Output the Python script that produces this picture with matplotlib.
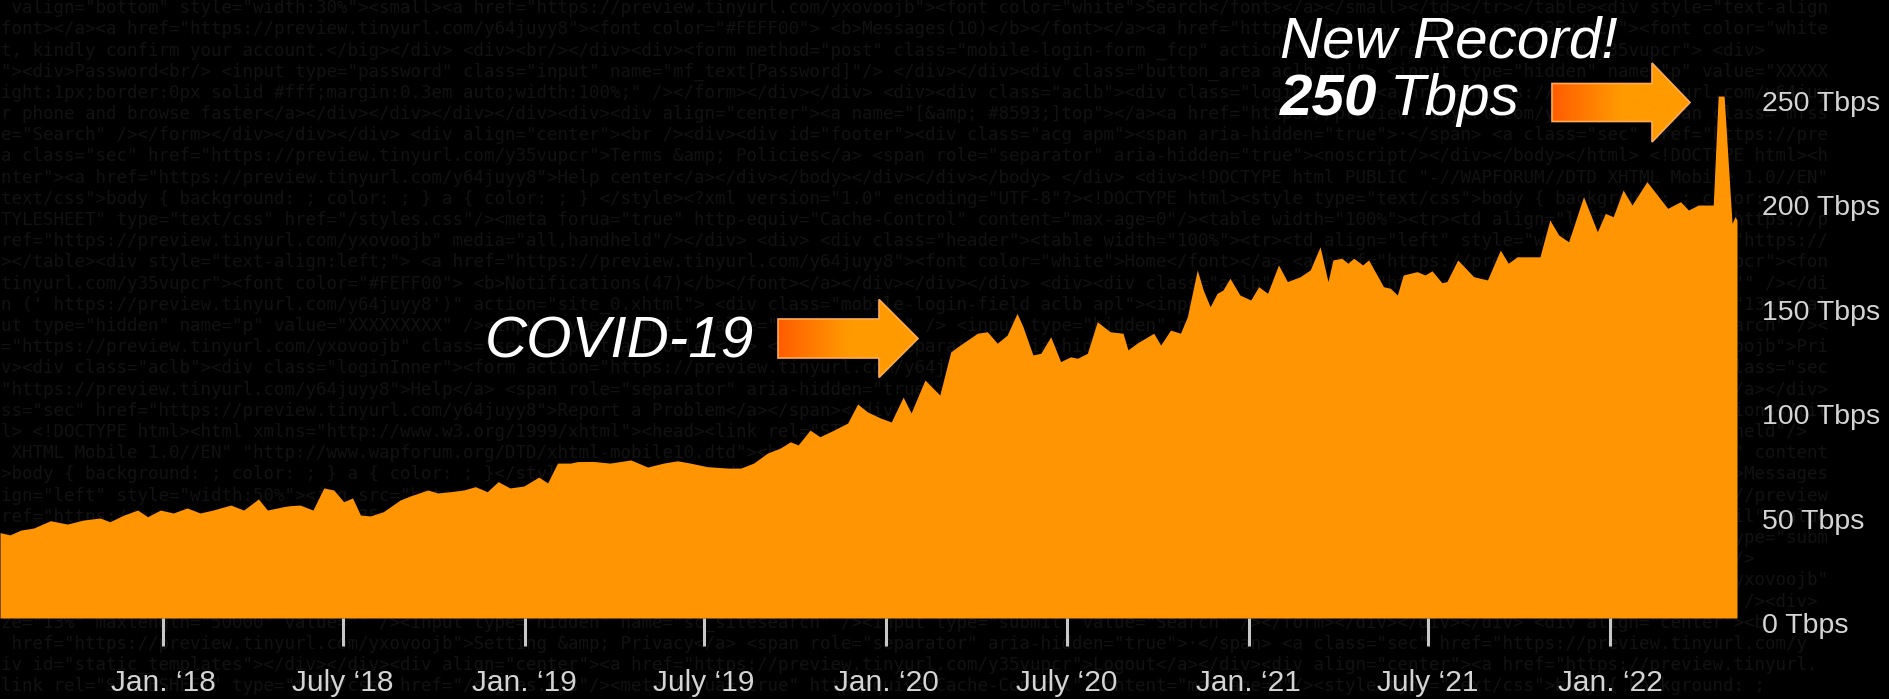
import matplotlib
matplotlib.use('Agg')
import matplotlib.pyplot as plt
import matplotlib.patches as patches
from matplotlib.colors import LinearSegmentedColormap
from matplotlib.transforms import ScaledTranslation
import numpy as np
import pandas as pd

# --- Canvas ---
W, H = 1890, 699
BG = '#000000'
ORANGE = '#ff9502'
LABEL = '#d4d4d4'

# --- Peak traffic, Tbps ---
dates = [
    '2017-07-20', '2017-07-30', '2017-08-10', '2017-08-23', '2017-09-09', '2017-09-26',
    '2017-10-12', '2017-10-29', '2017-11-08', '2017-11-22', '2017-12-06', '2017-12-16',
    '2017-12-29', '2018-01-11', '2018-01-25', '2018-02-07', '2018-02-20', '2018-03-10',
    '2018-03-23', '2018-04-07', '2018-04-16', '2018-05-02', '2018-05-09', '2018-05-19',
    '2018-06-01', '2018-06-12', '2018-06-22', '2018-07-02', '2018-07-11', '2018-07-19',
    '2018-07-29', '2018-08-11', '2018-08-28', '2018-09-07', '2018-09-25', '2018-10-05',
    '2018-10-18', '2018-10-31', '2018-11-12', '2018-11-24', '2018-12-05', '2018-12-17',
    '2018-12-31', '2019-01-15', '2019-01-24', '2019-02-03', '2019-02-16', '2019-02-23',
    '2019-03-11', '2019-03-28', '2019-04-18', '2019-05-05', '2019-05-21', '2019-06-04',
    '2019-06-17', '2019-07-04', '2019-07-25', '2019-08-07', '2019-08-20', '2019-09-03',
    '2019-09-16', '2019-09-26', '2019-10-04', '2019-10-16', '2019-10-26', '2019-11-09',
    '2019-11-23', '2019-12-03', '2019-12-13', '2019-12-26', '2020-01-06', '2020-01-18',
    '2020-01-26', '2020-02-09', '2020-02-24', '2020-03-06', '2020-03-13', '2020-04-02',
    '2020-04-12', '2020-04-22', '2020-05-02', '2020-05-12', '2020-05-18', '2020-05-28',
    '2020-06-05', '2020-06-15', '2020-06-25', '2020-07-05', '2020-07-12', '2020-07-22',
    '2020-08-01', '2020-08-14', '2020-08-27', '2020-09-01', '2020-09-10', '2020-09-27',
    '2020-10-04', '2020-10-14', '2020-10-24', '2020-10-31', '2020-11-10', '2020-11-16',
    '2020-11-23', '2020-11-30', '2020-12-06', '2020-12-13', '2020-12-23', '2021-01-03',
    '2021-01-11', '2021-01-20', '2021-01-31', '2021-02-09', '2021-02-22', '2021-03-04',
    '2021-03-14', '2021-03-22', '2021-03-27', '2021-04-05', '2021-04-11', '2021-04-17',
    '2021-04-26', '2021-05-02', '2021-05-17', '2021-05-24', '2021-05-31', '2021-06-06',
    '2021-06-20', '2021-06-28', '2021-07-05', '2021-07-15', '2021-07-20', '2021-07-31',
    '2021-08-16', '2021-08-30', '2021-09-12', '2021-09-20', '2021-09-29', '2021-10-22',
    '2021-11-01', '2021-11-10', '2021-11-20', '2021-12-05', '2021-12-19', '2021-12-27',
    '2022-01-04', '2022-01-14', '2022-01-23', '2022-02-07', '2022-02-28', '2022-03-13',
    '2022-03-21', '2022-03-31', '2022-04-15', '2022-04-20', '2022-04-26', '2022-05-04',
    '2022-05-07', '2022-05-09',
]
tbps = [
    40.9, 39.8, 42.1, 43.1, 46.6, 45.0,
    46.9, 47.9, 46.1, 49.3, 51.7, 48.5,
    51.7, 50.3, 52.7, 50.3, 51.7, 54.1,
    51.7, 57.0, 51.7, 53.3, 53.8, 54.1,
    51.7, 62.3, 61.3, 55.7, 57.5, 49.3,
    48.9, 50.9, 56.5, 58.4, 61.3, 59.9,
    60.5, 61.3, 62.9, 60.5, 65.3, 62.3,
    63.2, 67.5, 64.7, 74.2, 74.2, 74.9,
    75.0, 74.2, 75.7, 72.3, 74.2, 75.3,
    74.2, 72.5, 71.8, 71.8, 74.2, 79.0,
    81.4, 84.4, 82.9, 90.0, 86.8, 90.0,
    93.4, 102.5, 98.7, 95.8, 93.9, 105.8,
    98.2, 114.0, 106.8, 127.4, 129.9, 136.4,
    137.1, 131.6, 135.5, 145.9, 139.5, 126.0,
    126.8, 134.7, 122.8, 125.1, 124.4, 126.8,
    141.9, 137.1, 136.4, 128.4, 131.6, 136.4,
    130.7, 137.9, 136.4, 144.3, 166.7, 157.1,
    149.1, 155.5, 157.1, 162.7, 154.7, 152.3,
    158.7, 155.5, 169.1, 161.1, 163.5, 166.7,
    177.8, 161.1, 171.5, 172.3, 169.9, 172.3,
    169.1, 171.5, 158.7, 157.9, 154.7, 164.3,
    165.9, 164.3, 166.3, 160.6, 161.1, 171.5,
    163.5, 161.9, 176.2, 169.9, 173.0, 173.0,
    190.6, 183.4, 180.2, 201.8, 185.0, 193.8,
    192.2, 205.0, 197.8, 209.0, 196.2, 199.4,
    195.4, 197.8, 197.8, 250.0, 250.0, 189.0,
    192.2, 190.6,
]

tick_dates = ['2018-01-01', '2018-07-01', '2019-01-01', '2019-07-01', '2020-01-01',
              '2020-07-01', '2021-01-01', '2021-07-01', '2022-01-01']
tick_labels = ['Jan. \u201818', 'July \u201818', 'Jan. \u201819', 'July \u201819', 'Jan. \u201820',
               'July \u201820', 'Jan. \u201821', 'July \u201821', 'Jan. \u201822']
y_ticks = [0, 50, 100, 150, 200, 250]
y_labels = ['0 Tbps', '50 Tbps', '100 Tbps', '150 Tbps', '200 Tbps', '250 Tbps']

# faint page-source texture behind the chart
SOURCE_ROWS = [
    ' valign="bottom" style="width:30%"><small><a href="https://preview.tinyurl.com/yxovoojb"><font color="white">Search</font></a></small></td></tr></table><div style="text-align:left;">',
    'font></a><a href="https://preview.tinyurl.com/y64juyy8"><font color="#FEFF00"> <b>Messages(10)</b></font></a><a href="https://preview.tinyurl.com/y35vupcr"><font color="white">',
    't, kindly confirm your account.</big></div> <div><br/></div><div><form method="post" class="mobile-login-form _fcp" action="https://preview.tinyurl.com/y35vupcr"> <div>',
    '"><div>Password<br/> <input type="password" class="input" name="mf_text[Password]"/> </div></div><div class="button_area aclb apl"> <input type="hidden" name="p" value="XXXXXXXXX"',
    'ight:1px;border:0px solid #fff;margin:0.3em auto;width:100%;" /></form></div></div> <div><div class="aclb"><div class="loginInner"><a href="https://preview.tinyurl.com/y64juyy8">',
    'r phone and browse faster</a></div></div></div></div><div><div align="center"><a name="[&amp; #8593;]top"></a><a href="https://preview.tinyurl.com/y35vupcr"><span class="mfss fcg">',
    'e="Search" /></form></div></div></div> <div align="center"><br /><div><div id="footer"><div class="acg apm"><span aria-hidden="true">\u00b7</span> <a class="sec" href="https://preview',
    'a class="sec" href="https://preview.tinyurl.com/y35vupcr">Terms &amp; Policies</a> <span role="separator" aria-hidden="true"><noscript/></div></body></html> <!DOCTYPE html><html xm',
    'nter"><a href="https://preview.tinyurl.com/y64juyy8">Help center</a></div></body></div></div></body> </div> <div><!DOCTYPE html PUBLIC "-//WAPFORUM//DTD XHTML Mobile 1.0//EN" "htt',
    'text/css">body { background: ; color: ; } a { color: ; } </style><?xml version="1.0" encoding="UTF-8"?><!DOCTYPE html><style type="text/css">body { background: ; color: ; }',
    'TYLESHEET" type="text/css" href="/styles.css"/><meta forua="true" http-equiv="Cache-Control" content="max-age=0"/><table width="100%"><tr><td align="left"><img src="https://preview',
    'ref="https://preview.tinyurl.com/yxovoojb" media="all,handheld"/></div> <div> <div class="header"><table width="100%"><tr><td align="left" style="width:50%"><a href="https://preview',
    '></table><div style="text-align:left;"> <a href="https://preview.tinyurl.com/y64juyy8"><font color="white">Home</font></a> <a href="https://preview.tinyurl.com/y35vupcr"><font color=',
    'tinyurl.com/y35vupcr"><font color="#FEFF00"> <b>Notifications(47)</b></font></a></div></div></div> <div><div class="aclb"><img src="https://preview.tinyurl.com" alt="" /></div>',
    'n (\' https://preview.tinyurl.com/y64juyy8\')" action="site_0.xhtml"> <div class="mobile-login-field aclb apl"><input type="text" class="input" name="largesthum" size="13%" value=""',
    'ut type="hidden" name="p" value="XXXXXXXXX" /><input type="submit" value="Send message" /> <input type="hidden" name="sc_sitesearch" /><input type="submit" value="Search" /><div>',
    '="https://preview.tinyurl.com/yxovoojb" class="sec">Report a Problem</a> <span role="separator" aria-hidden="true">\u00b7</span> <a href="https://preview.tinyurl.com/yxovoojb">Privacy',
    'v><div class="aclb"><div class="loginInner"><form action="https://preview.tinyurl.com/y64juyy8" method="post"><span role="separator" aria-hidden="true">\u00b7</span> <a class="sec" href=',
    '"https://preview.tinyurl.com/y64juyy8">Help</a> <span role="separator" aria-hidden="true">\u00b7</span> <a class="sec" href="https://preview.tinyurl.com/yxovoojb">Logout</a></div>',
    'ss="sec" href="https://preview.tinyurl.com/y64juyy8">Report a Problem</a></span></div></body></html><html xmlns="http://www.w3.org/1999/xhtml"><head><title>Notifications</title>',
    'l> <!DOCTYPE html><html xmlns="http://www.w3.org/1999/xhtml"><head><link rel="STYLESHEET" type="text/css" href="https://preview.tinyurl.com/y35vupcr" media="all,handheld"/>',
    ' XHTML Mobile 1.0//EN" "http://www.wapforum.org/DTD/xhtml-mobile10.dtd"><html xmlns="http://www.w3.org/1999/xhtml"><head><meta forua="true" http-equiv="Cache-Control" content=',
    '>body { background: ; color: ; } a { color: ; }</style></head><body><div class="acw apm"><div style="text-align:left;"><a href="https://preview.tinyurl.com/y64juyy8">Messages',
    'ign="left" style="width:50%"><img src="https://preview.tinyurl.com/yxovoojb" alt="" /></td><td align="right" valign="bottom" style="width:50%"><small><a href="https://preview',
    'ref="https://preview.tinyurl.com/y35vupcr"><font color="white">Settings</font></a><div class="mobile-login-field aclb apl"><input type="text" class="input" name="email" value=""',
    'e="Search" /></form></div></div></div> <div align="center"><a href="https://preview.tinyurl.com/y64juyy8">Help</a></div><div><br/></div><div class="acw apm"><input type="submit"',
    'tinyurl.com/y35vupcr"><font color="#FEFF00"> <b>Messages</b></font></a></div><div style="text-align:left;"><input type="password" class="input" name="pass" value="" />',
    'ight:1px;border:0px solid #fff;margin:0.3em auto;width:100%;" /></form></div></div> <div><div align="center"><a name="top"></a> <a href="https://preview.tinyurl.com/yxovoojb">',
    '"https://preview.tinyurl.com/y64juyy8"><font color="white">Home</font></a></div> <div class="header"><table width="100%"><tr><td align="left"><div align="center"><br /><div>',
    'ze="13%" maxlength="50000" value="" /><input type="hidden" name="sc_sitesearch" /><input type="submit" value="Search" /></form></div></div></div> <div align="center"><b',
    ' href="https://preview.tinyurl.com/yxovoojb">Setting &amp; Privacy</a> <span role="separator" aria-hidden="true">\u00b7</span> <a class="sec" href="https://preview.tinyurl.com/y',
    'iv id="static_templates"></div></div><div align="center"><a href="https://preview.tinyurl.com/y35vupcr">Logout</a></div><div align="center"><a href="https://preview.tinyurl.',
    'link rel="STYLESHEET" type="text/css" href="/styles.css"/><meta forua="true" http-equiv="Cache-Control" content="max-age=0"/><style type="text/css">body { background: ;',
]

plt.rcParams['font.family'] = ['Liberation Sans', 'DejaVu Sans']

fig = plt.figure(figsize=(W / 100, H / 100), dpi=100)
fig.patch.set_facecolor(BG)

# --- Background layer (pixel coords, y down) ---
bg = fig.add_axes([0, 0, 1, 1], zorder=-1)
bg.set_xlim(0, W)
bg.set_ylim(H, 0)
bg.axis('off')
for i, row in enumerate(SOURCE_ROWS):
    bg.text(1, 8 + i * 21.2, row[:174], family='DejaVu Sans Mono', fontsize=12.6,
            color='#121212', ha='left', va='center')

# --- Area chart ---
base_px = 618
right_px = 1737
ax = fig.add_axes([0, (H - base_px) / H, right_px / W, base_px / H], zorder=1)
ax.patch.set_alpha(0)
x = pd.to_datetime(dates)
ax.fill_between(x, tbps, 0, color=ORANGE, lw=0)
ax.set_xlim(x[0], x[-1])
ax.set_ylim(0, 296)
for s in ax.spines.values():
    s.set_visible(False)

ax.set_xticks(pd.to_datetime(tick_dates))
ax.set_xticklabels(tick_labels)
ax.tick_params(axis='x', direction='out', length=20, width=2.2, color='#c8c8c8',
               pad=17, labelsize=21.5, labelcolor=LABEL)

ax.yaxis.tick_right()
ax.set_yticks(y_ticks)
ax.set_yticklabels(y_labels)
ax.tick_params(axis='y', length=0, pad=18, labelsize=20.5, labelcolor=LABEL)
# labels sit a few pixels below their gridline value
shift = ScaledTranslation(0, -0.05, fig.dpi_scale_trans)
for lab in ax.get_yticklabels():
    lab.set_transform(lab.get_transform() + shift)

# --- Overlay: arrows + callouts (pixel coords, y down) ---
ov = fig.add_axes([0, 0, 1, 1], zorder=3)
ov.axis('off')
ov.set_xlim(0, W)
ov.set_ylim(H, 0)
ov.set_autoscale_on(False)

arrow_cmap = LinearSegmentedColormap.from_list('arrow', ['#ff5c00', '#ff9a00', '#ff9a00'])

def grad_arrow(x0, xh, x1, ymid, shaft_h, head_h):
    pts = [(x0, ymid - shaft_h / 2), (xh, ymid - shaft_h / 2), (xh, ymid - head_h / 2),
           (x1, ymid), (xh, ymid + head_h / 2), (xh, ymid + shaft_h / 2), (x0, ymid + shaft_h / 2)]
    poly = patches.Polygon(pts, closed=True, facecolor='none', edgecolor='#ffab55', lw=1.2, zorder=4)
    ov.add_patch(poly)
    grad = np.linspace(0, 1, 256).reshape(1, -1)
    im = ov.imshow(grad, cmap=arrow_cmap, extent=(x0, x1, ymid + head_h / 2, ymid - head_h / 2),
                   aspect='auto', zorder=3, interpolation='bilinear')
    im.set_clip_path(poly)

grad_arrow(778, 879, 918, 338.5, 39, 78)
grad_arrow(1552, 1652, 1690, 102.5, 38, 79)
ov.set_xlim(0, W)
ov.set_ylim(H, 0)

ov.text(485, 358, 'COVID-19', style='italic', fontsize=42, color='white', ha='left', va='baseline')
ov.text(1280, 57, 'New Record!', style='italic', fontsize=42, color='white', ha='left', va='baseline')
t250 = ov.text(1280, 115, '250', style='italic', fontweight='bold', fontsize=42, color='white',
               ha='left', va='baseline')
ov.annotate('Tbps', xy=(1, 0), xycoords=t250, xytext=(9, 0), textcoords='offset points',
            style='italic', fontsize=42, color='white', ha='left', va='bottom')

fig.savefig('out.png', dpi=100, facecolor=BG)
plt.close(fig)
